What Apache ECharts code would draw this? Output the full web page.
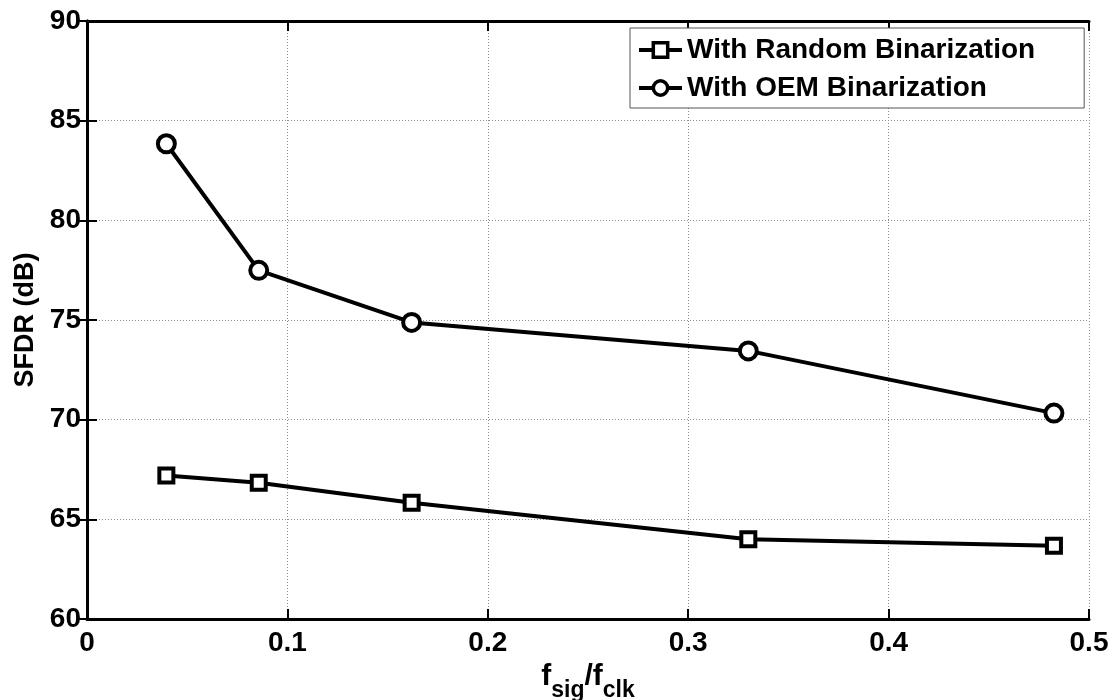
<!DOCTYPE html>
<html>
<head>
<meta charset="utf-8">
<script src="https://cdn.jsdelivr.net/npm/echarts@6/dist/echarts.min.js"></script>
<style>
  html, body { margin: 0; padding: 0; background: #fff; }
  #chart { width: 1115px; height: 700px; }
</style>
</head>
<body>
<div id="chart"></div>
<script>
// Normalised signal frequency f_sig / f_clk
const fRatio = [0.0396, 0.0857, 0.162, 0.330, 0.4825];
// SFDR in dB for the two binarization schemes
const sfdrRandom = [67.2, 66.83, 65.83, 64.0, 63.67];
const sfdrOEM = [83.84, 77.49, 74.88, 73.45, 70.33];
// Axis ranges and tick spacing
const xRange = [0, 0.5], xStep = 0.1;
const yRange = [60, 90], yStep = 5;
const seriesNames = ['With Random Binarization', 'With OEM Binarization'];

const FONT = '"Liberation Sans", Arial, Helvetica, sans-serif';
const tickFont = { fontFamily: FONT, fontWeight: 'bold', fontSize: 28, color: '#000' };

function pairs(xs, ys) { return xs.map((x, i) => [x, ys[i]]); }

const boxAxis = {
  axisLine: { show: true, lineStyle: { color: '#000', width: 3 } },
  axisTick: { show: true, inside: true, length: 10, lineStyle: { color: '#000', width: 2 } },
  axisLabel: { show: false },
  splitLine: { show: false }
};
const gridLine = { show: true, lineStyle: { color: '#8c8c8c', width: 1, type: [1, 2] } };

const chart = echarts.init(document.getElementById('chart'), null, { renderer: 'canvas' });
chart.setOption({
  backgroundColor: '#fff',
  animation: false,
  grid: { left: 87, right: 26, top: 21, bottom: 81, containLabel: false, outerBoundsMode: 'none' },
  xAxis: [
    {
      type: 'value', position: 'bottom', min: xRange[0], max: xRange[1], interval: xStep,
      axisLine: { show: true, onZero: false, lineStyle: { color: '#000', width: 3 } },
      axisTick: { show: true, inside: true, length: 10, lineStyle: { color: '#000', width: 2 } },
      axisLabel: Object.assign({ margin: 10 }, tickFont),
      splitLine: gridLine,
      name: '{m|f}{s|sig}{m|/f}{s|clk}',
      nameLocation: 'middle',
      nameGap: 42,
      nameTextStyle: {
        rich: {
          m: { fontFamily: FONT, fontWeight: 'bold', fontSize: 30, color: '#000', verticalAlign: 'top', lineHeight: 40 },
          s: { fontFamily: FONT, fontWeight: 'bold', fontSize: 23, color: '#000', verticalAlign: 'bottom', lineHeight: 40 }
        }
      }
    },
    Object.assign({ type: 'value', position: 'top', min: xRange[0], max: xRange[1], interval: xStep }, boxAxis)
  ],
  yAxis: [
    {
      type: 'value', position: 'left', min: yRange[0], max: yRange[1], interval: yStep,
      axisLine: { show: true, onZero: false, lineStyle: { color: '#000', width: 3 } },
      axisTick: { show: true, inside: true, length: 10, lineStyle: { color: '#000', width: 2 } },
      axisLabel: Object.assign({ margin: 6 }, tickFont),
      splitLine: gridLine,
      name: 'SFDR (dB)',
      nameLocation: 'middle',
      nameRotate: 90,
      nameGap: 48,
      nameTextStyle: { fontFamily: FONT, fontWeight: 'bold', fontSize: 27, color: '#000' }
    },
    Object.assign({ type: 'value', position: 'right', min: yRange[0], max: yRange[1], interval: yStep }, boxAxis)
  ],
  legend: {
    data: seriesNames,
    orient: 'vertical',
    left: 630, top: 28,
    padding: [7, 49, 5, 7],
    itemGap: 8,
    itemWidth: 43, itemHeight: 18,
    backgroundColor: '#fff',
    borderColor: '#555', borderWidth: 1,
    lineStyle: { color: '#000', width: 4 },
    itemStyle: { color: '#fff', borderColor: '#000', borderWidth: 3.5 },
    textStyle: { fontFamily: FONT, fontWeight: 'bold', fontSize: 28, color: '#000', lineHeight: 30 }
  },
  series: [
    {
      name: seriesNames[0], type: 'line', xAxisIndex: 0, yAxisIndex: 0,
      data: pairs(fRatio, sfdrRandom),
      symbol: 'rect', symbolSize: 14,
      lineStyle: { color: '#000', width: 4 },
      itemStyle: { color: '#fff', borderColor: '#000', borderWidth: 4 },
      emphasis: { disabled: true }
    },
    {
      name: seriesNames[1], type: 'line', xAxisIndex: 0, yAxisIndex: 0,
      data: pairs(fRatio, sfdrOEM),
      symbol: 'circle', symbolSize: 17,
      lineStyle: { color: '#000', width: 4 },
      itemStyle: { color: '#fff', borderColor: '#000', borderWidth: 4 },
      emphasis: { disabled: true }
    }
  ]
});
</script>
</body>
</html>
